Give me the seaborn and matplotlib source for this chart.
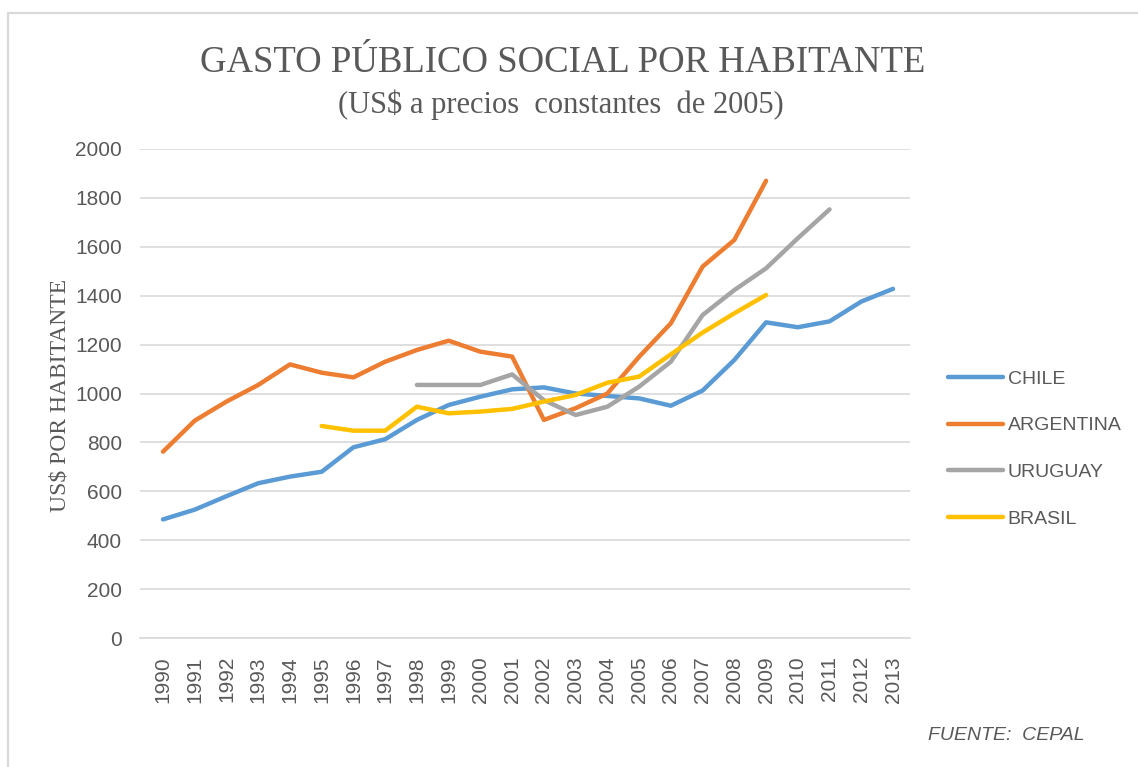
import numpy as np
import pandas as pd
import matplotlib
matplotlib.use("Agg")
import matplotlib.pyplot as plt
import seaborn as sns
from matplotlib.lines import Line2D

years = list(range(1990, 2014))
chile = [485, 525, 580, 633, 660, 680, 780, 813, 892, 953, 987, 1017,
         1025, 1000, 990, 980, 950, 1012, 1137, 1291, 1271, 1295, 1376, 1428]
argentina_years = list(range(1990, 2010))
argentina = [762, 889, 967, 1035, 1119, 1085, 1066, 1130, 1178, 1216, 1171, 1151,
             892, 940, 1000, 1150, 1287, 1519, 1628, 1870]
uruguay_years = list(range(1998, 2012))
uruguay = [1035, 1035, 1035, 1078, 973, 912, 946, 1028, 1130, 1321, 1423, 1512, 1635, 1753]
brasil_years = list(range(1995, 2010))
brasil = [867, 848, 848, 946, 919, 926, 937, 967, 994, 1044, 1069, 1160, 1249, 1328, 1403]

countries = ["CHILE", "ARGENTINA", "URUGUAY", "BRASIL"]
colors = ["#5B9BD5", "#ED7D31", "#A5A5A5", "#FFC000"]

frames = []
for name, yrs, vals in [("CHILE", years, chile), ("ARGENTINA", argentina_years, argentina),
                        ("URUGUAY", uruguay_years, uruguay), ("BRASIL", brasil_years, brasil)]:
    frames.append(pd.DataFrame({"year": yrs, "value": vals, "country": name}))
df = pd.concat(frames, ignore_index=True)
df["pos"] = df["year"] - years[0]

sns.set_style("white")
plt.rcParams["font.family"] = ["Liberation Sans", "DejaVu Sans"]

W, H = 1138, 767
fig = plt.figure(figsize=(W / 100, H / 100), dpi=100)
ax = fig.add_axes([140 / W, 1 - 638 / H, (910 - 140) / W, (638 - 149) / H])

sns.lineplot(data=df, x="pos", y="value", hue="country", hue_order=countries,
             palette=colors, linewidth=3.2, ax=ax, legend=True, estimator=None,
             sort=False)
for ln in ax.lines:
    ln.set_solid_capstyle("round")
    ln.set_solid_joinstyle("round")

ax.set_ylim(0, 2000)
ax.set_xlim(-0.725, 23.535)
ax.set_yticks(range(0, 2001, 200))
ax.set_xticks(range(len(years)))
ax.set_xticklabels([str(y) for y in years], rotation=90)
ax.tick_params(axis="both", length=0, labelsize=15, labelcolor="#595959")
ax.tick_params(axis="y", pad=13)
ax.tick_params(axis="x", pad=13)
ax.grid(axis="y", color="#D9D9D9", linewidth=1.2)
ax.set_axisbelow(True)
for s in ["top", "right", "left"]:
    ax.spines[s].set_visible(False)
ax.spines["bottom"].set_color("#D9D9D9")
ax.spines["bottom"].set_linewidth(1.2)
ax.set_xlabel("")
ax.set_ylabel("US$ POR HABITANTE", fontfamily="Liberation Serif", fontsize=17,
              color="#595959")
ax.yaxis.set_label_coords((60 - 140) / 770, 0.497)
ax.yaxis.label.set_va("center")

handles, labels = ax.get_legend_handles_labels()
ax.legend(handles, labels, loc="center left", bbox_to_anchor=(930 / W, 1 - 449 / H),
          bbox_transform=fig.transFigure, frameon=False, fontsize=14,
          labelcolor="#595959", handlelength=2.85, handletextpad=0.25,
          labelspacing=1.5)

fig.text(563 / W, 1 - 63 / H, "GASTO PÚBLICO SOCIAL POR HABITANTE",
         ha="center", va="center", fontfamily="Liberation Serif", fontsize=26.5,
         color="#595959")
fig.text(561 / W, 1 - 105 / H, "(US$ a precios  constantes  de 2005)",
         ha="center", va="center", fontfamily="Liberation Serif", fontsize=22,
         color="#595959")
fig.text(1085 / W, 1 - 735 / H, "FUENTE:  CEPAL", ha="right", va="center",
         fontsize=14, style="italic", color="#595959")

fig.lines.append(Line2D([8 / W, 8 / W, 1.0], [0.0, 1 - 13 / H, 1 - 13 / H],
                        transform=fig.transFigure, color="#D9D9D9", linewidth=1.6))

fig.savefig("out.png", dpi=100)
